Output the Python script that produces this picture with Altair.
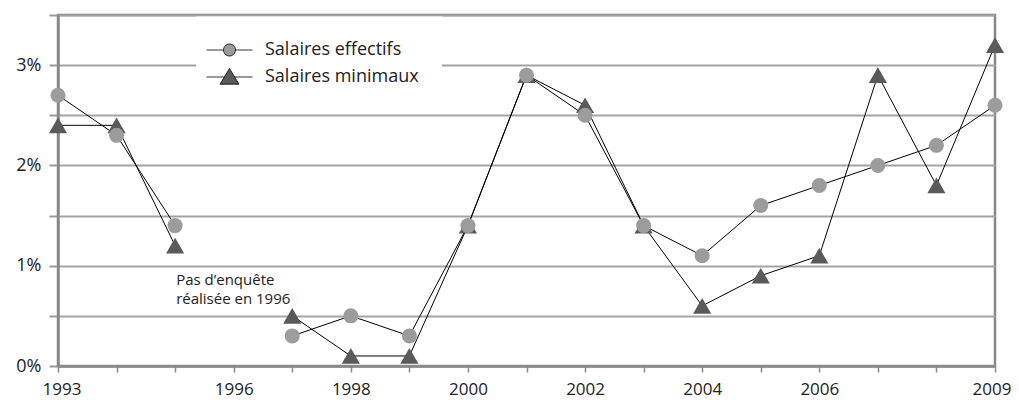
import altair as alt
import pandas as pd

years = list(range(1993, 2010))
effectifs = [2.7, 2.3, 1.4, None, 0.3, 0.5, 0.3, 1.4, 2.9, 2.5, 1.4, 1.1, 1.6, 1.8, 2.0, 2.2, 2.6]
minimaux = [2.4, 2.4, 1.2, None, 0.5, 0.1, 0.1, 1.4, 2.9, 2.6, 1.4, 0.6, 0.9, 1.1, 2.9, 1.8, 3.2]
series_names = ["Salaires effectifs", "Salaires minimaux"]
x_label_years = [1993, 1996, 1998, 2000, 2002, 2004, 2006, 2009]
y_ticks = [0, 0.5, 1, 1.5, 2, 2.5, 3, 3.5]
note_text = ["Pas d\u2019enqu\u00eate", "r\u00e9alis\u00e9e en 1996"]
note_year = [1995]
note_value = [0.93]

FONT = "Open Sans"
C_EFF = "#9c9c9c"
C_MIN = "#5a5a5a"

rows = []
for name, vals in zip(series_names, [effectifs, minimaux]):
    seg = 0
    for yr, v in zip(years, vals):
        if v is None:
            seg += 1
            continue
        rows.append({"year": yr, "value": v, "series": name, "segment": seg})
df = pd.DataFrame(rows)

note_df = pd.DataFrame({"year": note_year, "value": note_value, "text": ["\n".join(note_text)]})

x_enc = alt.X(
    "year:Q",
    scale=alt.Scale(domain=[1993, 2009], nice=False, zero=False),
    axis=alt.Axis(
        values=years,
        format="d",
        labelExpr="indexof(%s, datum.value) >= 0 ? datum.label : ''" % str(x_label_years),
        labelOverlap=False,
        labelFlush=True,
        labelFlushOffset=16,
        grid=False,
        tickSize=6,
        tickWidth=1.5,
        tickColor="#888888",
        domainColor="#888888",
        domainWidth=2.5,
        labelFontSize=17,
        labelPadding=9,
        labelColor="#222222",
        labelFont=FONT,
        title=None,
    ),
)
y_enc = alt.Y(
    "value:Q",
    scale=alt.Scale(domain=[0, 3.5], nice=False, zero=True),
    axis=alt.Axis(
        values=y_ticks,
        labelExpr="datum.value % 1 === 0 && datum.value < 3.5 ? datum.value + '%' : ''",
        labelFlush=False,
        grid=True,
        gridColor="#a3a3a3",
        gridWidth=2,
        tickSize=9,
        tickWidth=2,
        tickColor="#999999",
        domainColor="#888888",
        domainWidth=2.5,
        labelFontSize=18,
        labelPadding=8,
        labelColor="#222222",
        labelFont=FONT,
        title=None,
    ),
)

base = alt.Chart(df)

lines = base.mark_line(color="black", strokeWidth=1).encode(
    x=x_enc, y=y_enc, detail=["series:N", "segment:N"]
)

tri = base.transform_filter(alt.datum.series == "Salaires minimaux").mark_point(
    shape="triangle-up", filled=True, color=C_MIN, size=330, opacity=1
).encode(x="year:Q", y="value:Q")

circ = base.transform_filter(alt.datum.series == "Salaires effectifs").mark_point(
    shape="circle", filled=True, color=C_EFF, size=225, opacity=1
).encode(x="year:Q", y="value:Q")

circle_path = "M-2.3,0H-0.62M0.62,0H2.3M-0.6,0A0.6,0.6,0,1,0,0.6,0A0.6,0.6,0,1,0,-0.6,0Z"
tri_path = "M-2.3,0H-0.5M0.5,0H2.3M0,-0.85L0.95,0.72L-0.95,0.72Z"

legend_kw = dict(
    orient="none",
    legendX=138,
    legendY=1.5,
    padding=23,
    fillColor="white",
    title=None,
    symbolSize=400,
    symbolStrokeWidth=0.8,
    symbolStrokeColor="black",
    labelOffset=25,
    labelFontSize=18,
    labelFont=FONT,
    labelColor="#222222",
    rowPadding=7,
)

legend_layer = base.mark_point(filled=True, size=0, strokeWidth=0, opacity=1).encode(
    x="year:Q",
    y="value:Q",
    shape=alt.Shape(
        "series:N",
        scale=alt.Scale(domain=series_names, range=[circle_path, tri_path]),
        legend=alt.Legend(**legend_kw),
    ),
    color=alt.Color(
        "series:N",
        scale=alt.Scale(domain=series_names, range=[C_EFF, C_MIN]),
        legend=alt.Legend(**legend_kw),
    ),
)

note = alt.Chart(note_df).mark_text(
    align="left", baseline="top", font=FONT, fontSize=15, lineBreak="\n",
    lineHeight=19, color="#222222", dx=1
).encode(x="year:Q", y="value:Q", text="text:N")

chart = alt.layer(lines, tri, circ, legend_layer, note).properties(
    width=937,
    height=351,
    autosize=alt.AutoSizeParams(type="none"),
    padding={"left": 50, "top": 7, "right": 16, "bottom": 34},
).configure_view(stroke="#888888", strokeWidth=2.5)

chart.save("out.html", embed_options={"renderer": "svg", "actions": False})
